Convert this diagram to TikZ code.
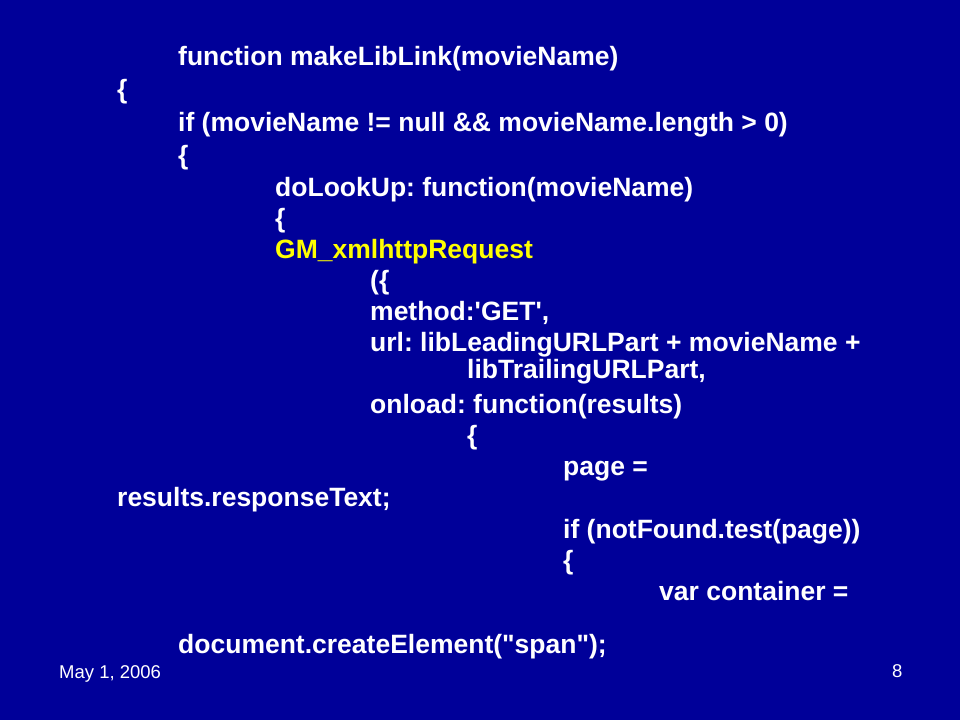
\documentclass[tikz,border=0pt]{standalone}
\usepackage{fontspec}
\setmainfont{Liberation Sans}
\newfontfamily\codefont{Liberation Sans}
\usetikzlibrary{positioning}
\definecolor{slideblue}{RGB}{0,0,153}
\definecolor{codeyellow}{RGB}{255,255,0}
\tikzstyle{code} = [anchor=base west, inner sep=0pt, text=white, font=\codefont\fontsize{26.5}{30}\selectfont\bfseries\frenchspacing]
\tikzstyle{hilite} = [code, text=codeyellow]
\tikzstyle{footer} = [anchor=base west, inner sep=0pt, text=white, font=\fontsize{18.5}{20}\selectfont]

\begin{document}
\begin{tikzpicture}[x=1pt, y=-1pt]
    \fill[slideblue] (0,0) rectangle (960,720);
    \useasboundingbox (0,0) rectangle (960,720);

    \node (fn) [code] at (178,65) {function makeLibLink(movieName)};
    \node (ob1) [code] at (117,98) {\{};
    \node (iftest) [code] at (178,131) {if (movieName != null \&\& movieName.length > 0)};
    \node (ob2) [code] at (178,164) {\{};
    \node (lookup) [code] at (275,196) {doLookUp: function(movieName)};
    \node (ob3) [code] at (275,227) {\{};
    \node (gmreq) [hilite] at (275,258) {GM\_xmlhttpRequest};
    \node (ob4) [code] at (370,289) {(\{};
    \node (method) [code] at (370,320) {method:'GET',};
    \node (url) [code] at (370,351) {url: libLeadingURLPart + movieName +};
    \node (urltail) [code] at (467,378) {libTrailingURLPart,};
    \node (onload) [code] at (370,413) {onload: function(results)};
    \node (ob5) [code] at (467,444) {\{};
    \node (page) [code] at (563,475) {page =};
    \node (resp) [code] at (117,506) {results.responseText;};
    \node (nftest) [code] at (563,538) {if (notFound.test(page))};
    \node (ob6) [code] at (563,569) {\{};
    \node (cont) [code] at (659,600) {var container =};
    \node (create) [code] at (178,653) {document.createElement("span");};

    \node (date) [footer] at (59,678) {May 1, 2006};
    \node (pnum) [footer] at (892,677) {8};
\end{tikzpicture}
\end{document}
